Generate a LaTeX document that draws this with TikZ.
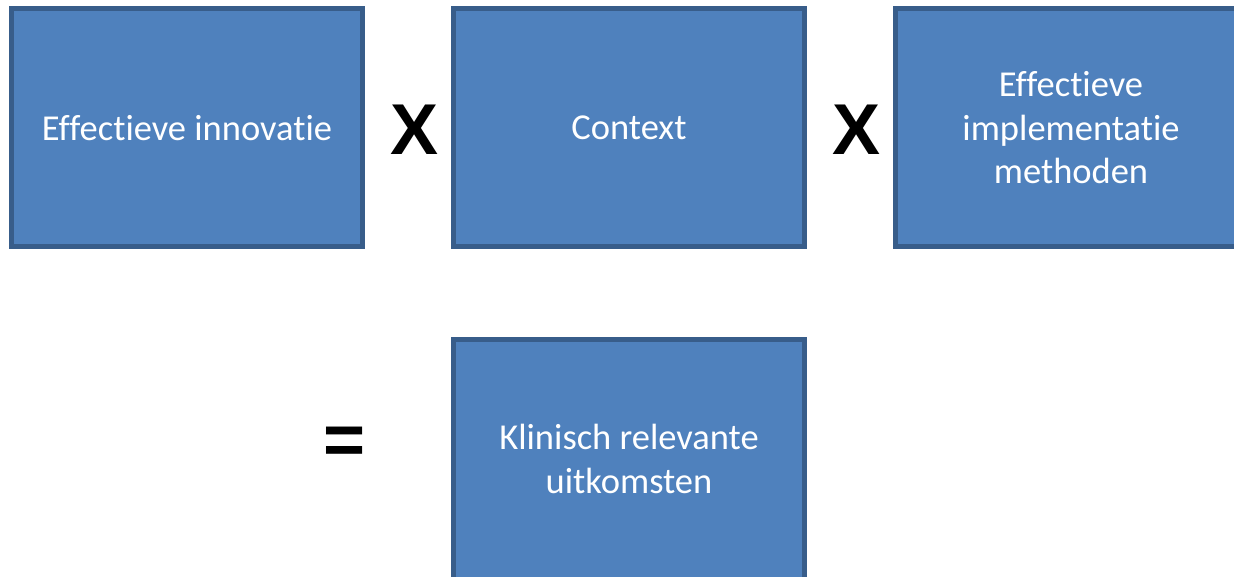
\documentclass[tikz,border=0pt]{standalone}
\usepackage{fontspec}
\setmainfont[Ligatures={NoCommon,NoRequired,NoContextual}]{Carlito}
\newfontfamily\opfont{Liberation Sans}
\definecolor{boxfill}{HTML}{4F81BD}
\definecolor{boxline}{HTML}{385D8A}
\begin{document}
\begin{tikzpicture}[x=1pt,y=-1pt,
  box/.style={draw=boxline,fill=boxfill,line width=5pt},
  lbl/.style={text=white,font=\fontsize{36.5}{43.5}\selectfont,align=center},
  op/.style={font=\opfont\bfseries\fontsize{72}{72}\selectfont,text=black,inner sep=0pt}]
\useasboundingbox (0,0) rectangle (1234,576);
\draw[box] (11.5,8.5) rectangle (362.5,246.5);
\node[lbl] (a) at (187,128) {Effectieve innovatie};
\draw[box] (453.5,8.5) rectangle (804.5,246.5);
\node[lbl] (b) at (629,128) {Context};
\draw[box] (895.5,8.5) rectangle (1250,246.5);
\node[lbl] (c) at (1071,128) {Effectieve\\implementatie\\methoden};
\draw[box] (453.5,339.5) rectangle (804.5,600);
\node[lbl] (d) at (629,459) {Klinisch relevante\\uitkomsten};
\node[op] (x1) at (415,130) {X};
\node[op] (x2) at (857,130) {X};
\node[op] (eq) at (345,446) {=};
\end{tikzpicture}
\end{document}
